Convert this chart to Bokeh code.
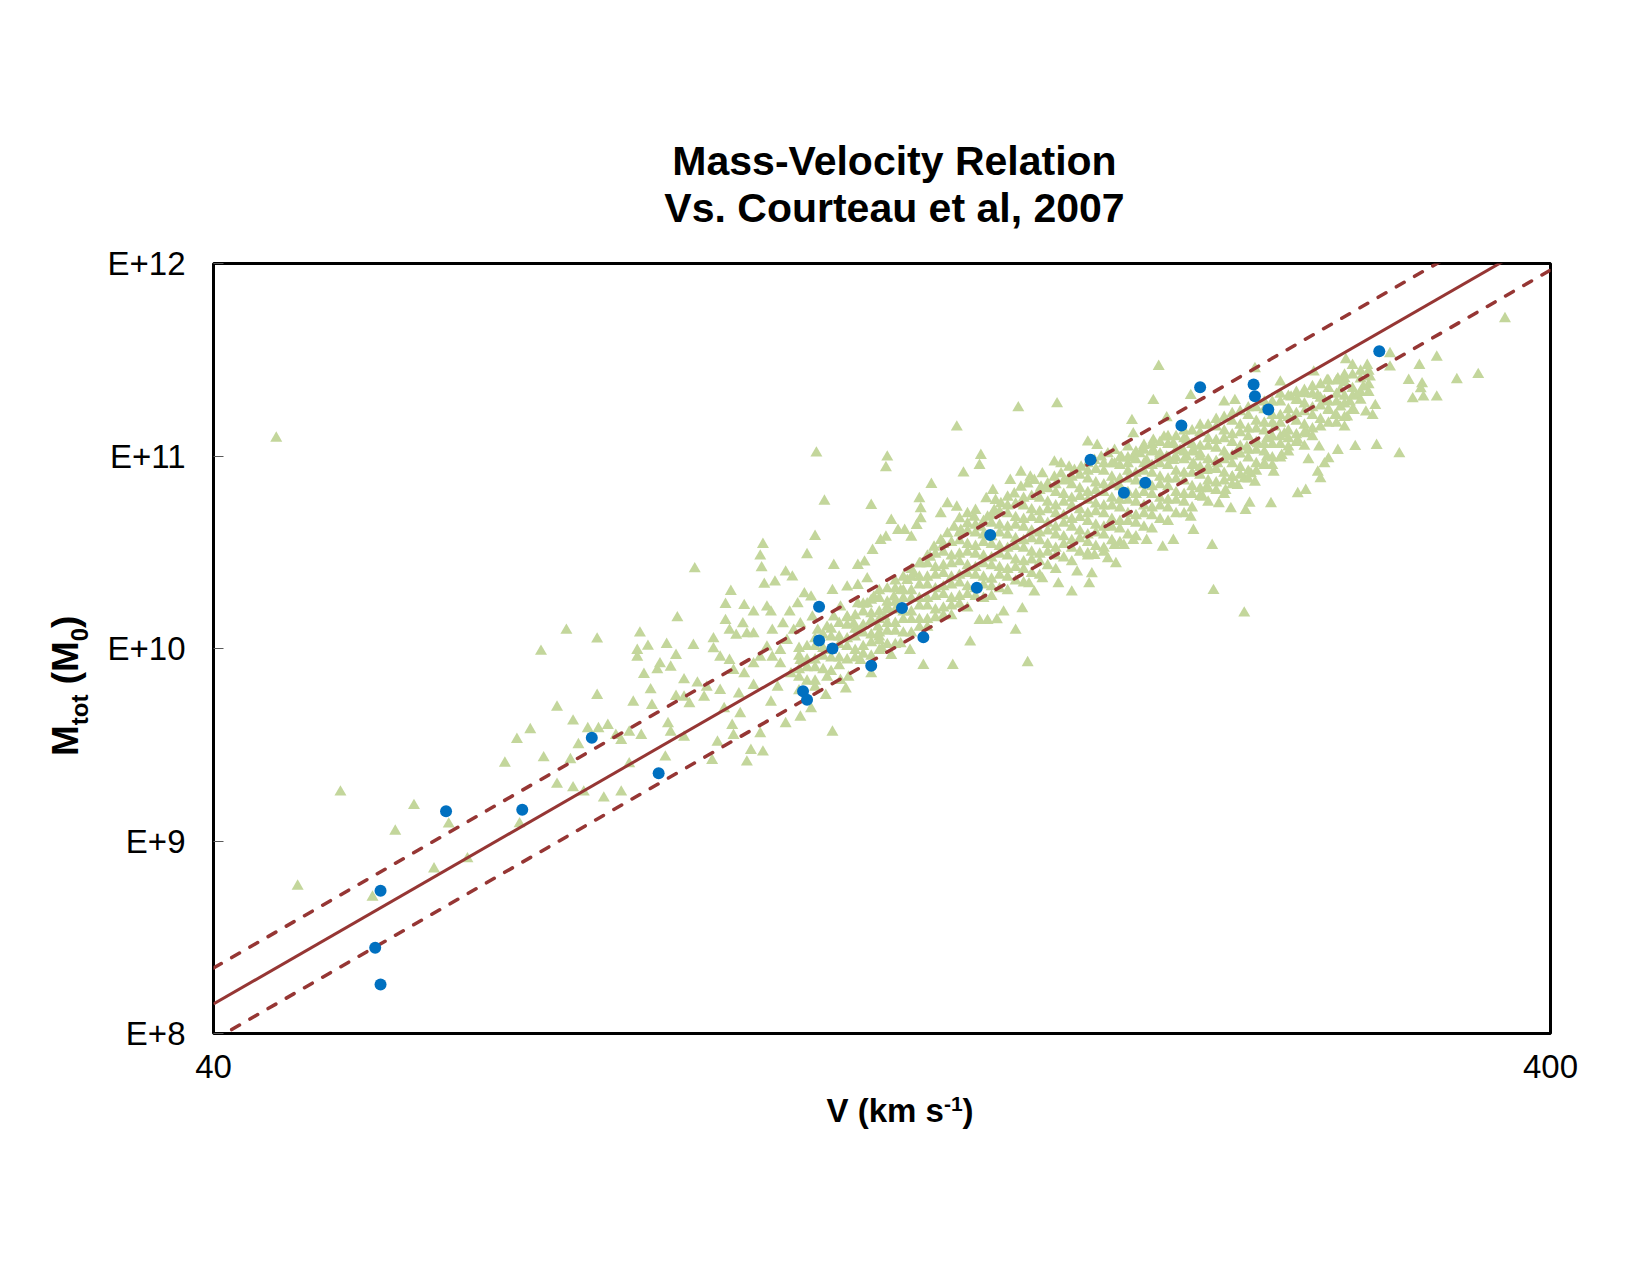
from bokeh.plotting import figure
from bokeh.layouts import column, row
from bokeh.models import Label, FixedTicker, CustomJSTickFormatter, Range1d
from bokeh.embed import file_html
from bokeh.resources import INLINE
import math

# ---------------- data (log10 V [km/s], log10 M_tot [M_sun]) ----------------
blue_pts = [
    (1.727, 8.741), (1.723, 8.445), (1.727, 8.255), (1.776, 9.155), (1.833, 9.162),
    (1.885, 9.536), (1.935, 9.352), (2.043, 9.778), (2.046, 9.734), (2.055, 10.217),
    (2.055, 10.042), (2.065, 10.000), (2.094, 9.910), (2.117, 10.211), (2.133, 10.059),
    (2.173, 10.316), (2.183, 10.590), (2.258, 10.980), (2.283, 10.809), (2.299, 10.861),
    (2.326, 11.158), (2.340, 11.357), (2.380, 11.371), (2.381, 11.311), (2.391, 11.242),
    (2.474, 11.544),
]

tri_low = [
    (1.649, 11.092),
    (1.665, 8.765), (1.697, 9.254), (1.721, 8.708), (1.738, 9.051), (1.752, 9.184),
    (1.767, 8.855), (1.778, 9.088), (1.792, 8.907), (1.820, 9.404), (1.829, 9.527),
    (1.839, 9.578), (1.831, 9.089), (1.849, 9.432), (1.859, 9.695), (1.859, 9.294),
    (1.869, 9.422), (1.871, 9.276), (1.871, 9.623), (1.875, 9.500), (1.879, 9.254),
    (1.882, 9.583), (1.890, 9.583), (1.894, 9.223), (1.897, 9.600), (1.903, 9.548),
    (1.907, 9.522), (1.907, 9.254), (1.913, 9.401), (1.916, 9.721), (1.913, 9.565),
    (1.922, 9.548), (1.930, 9.704), (1.940, 9.436), (1.942, 9.609), (1.944, 9.565),
    (1.954, 9.539), (1.958, 9.713),
]

tri_left = [
    (1.847, 9.985), (1.866, 10.094), (1.889, 10.049), (1.889, 9.756), (1.921, 10.080),
    (1.919, 9.990), (1.919, 9.955), (1.927, 10.011), (1.941, 10.021), (1.949, 10.159),
    (1.948, 9.964), (1.961, 10.016), (1.924, 9.865), (1.934, 9.889), (1.936, 9.920),
    (1.944, 9.903), (1.929, 9.785), (1.954, 9.837), (1.964, 9.820), (1.948, 9.751),
    (1.954, 9.747), (1.962, 10.414),
]

tri_top = [
    (2.204, 11.250), (2.158, 11.150), (2.309, 11.465), (2.233, 11.271), (2.305, 11.288),
    (2.289, 11.184), (2.333, 11.314), (2.315, 11.198), (2.568, 11.713),
]

tri_mid_upper = [
    (2.053, 11.015), (2.106, 10.994), (2.105, 10.939), (2.176, 11.003), (2.175, 10.951),
    (2.163, 10.911), (2.139, 10.852), (2.059, 10.765), (2.094, 10.743), (2.130, 10.778),
    (2.131, 10.726), (2.052, 10.582), (2.046, 10.487), (2.013, 10.540), (2.011, 10.480),
    (2.012, 10.419), (2.066, 10.431), (2.030, 10.397), (2.035, 10.371), (2.022, 10.345),
    (2.014, 10.333), (1.989, 10.296), (1.985, 10.229), (1.999, 10.223), (2.006, 10.189),
    (2.016, 10.215), (2.019, 10.189), (1.976, 10.050), (1.985, 10.145), (1.988, 10.094),
    (1.993, 10.068), (1.998, 10.128), (2.001, 10.076), (2.006, 10.076), (2.020, 10.094),
    (2.028, 10.128), (2.033, 10.189), (2.039, 10.232), (2.044, 10.284), (2.049, 10.267),
    (2.065, 10.301), (2.076, 10.319), (2.084, 10.327), (2.091, 10.362), (2.084, 10.431),
    (2.089, 10.449), (2.095, 10.509), (2.101, 10.561), (2.109, 10.665), (2.114, 10.613),
    (2.119, 10.613), (2.124, 10.578), (2.105, 10.578), (2.128, 10.639), (2.131, 10.674),
    (2.146, 10.700), (2.151, 10.752), (2.158, 10.734), (2.160, 10.674), (2.166, 10.700),
    (2.172, 10.717), (2.180, 10.778), (2.185, 10.821), (2.187, 10.769), (2.198, 10.873),
    (2.206, 10.916), (2.213, 10.890), (2.222, 10.907), (2.231, 10.968), (2.236, 10.959),
    (2.242, 10.942), (2.256, 11.072), (2.263, 11.055), (2.276, 11.029), (2.286, 11.046),
    (2.290, 11.115), (2.298, 11.055), (2.305, 11.081), (2.313, 11.098), (2.320, 11.063),
    (2.330, 11.081), (2.335, 11.029),
]

tri_mid_lower = [
    (2.335, 10.613), (2.333, 10.682), (2.320, 10.561), (2.312, 10.526), (2.300, 10.561),
    (2.290, 10.561), (2.283, 10.535), (2.276, 10.535), (2.268, 10.500), (2.277, 10.440),
    (2.271, 10.466), (2.261, 10.483), (2.256, 10.492), (2.259, 10.388), (2.257, 10.336),
    (2.248, 10.397), (2.244, 10.293), (2.234, 10.336), (2.222, 10.362), (2.216, 10.293),
    (2.212, 10.336), (2.202, 10.094), (2.207, 10.206), (2.193, 10.189), (2.188, 10.149),
    (2.181, 10.145), (2.175, 10.145), (2.168, 10.033), (2.155, 9.912), (2.133, 9.912),
    (2.123, 9.990), (2.116, 10.024), (2.109, 9.964), (2.102, 9.998), (2.100, 10.059),
    (2.211, 9.926), (2.094, 9.868), (2.075, 9.790), (2.060, 9.756), (2.065, 9.565),
    (2.049, 9.687), (2.041, 9.643), (2.030, 9.609), (2.019, 9.721), (2.011, 9.557),
    (2.004, 9.470), (2.013, 9.462), (2.001, 9.410), (1.975, 9.418), (1.979, 9.513),
    (1.991, 9.548), (1.996, 9.661), (1.990, 9.600), (1.984, 9.687), (1.971, 9.799),
    (1.981, 9.782), (1.995, 9.764), (2.006, 9.808), (2.024, 9.799), (2.034, 9.868),
    (2.026, 9.920), (2.041, 9.938), (2.046, 9.903), (2.052, 9.799), (2.061, 9.851),
    (2.071, 9.834), (2.077, 9.851), (2.086, 9.938), (1.969, 9.747),
]

tri_mid_band = [
    (1.976, 9.998), (1.981, 9.955), (1.988, 9.938), (1.991, 9.886), (1.999, 9.868),
    (2.006, 9.920), (2.011, 9.955), (2.016, 10.007), (2.020, 9.955), (2.026, 9.990),
    (2.031, 10.042), (2.036, 10.094), (2.041, 10.128), (2.050, 10.163), (2.054, 10.094),
    (2.061, 10.111), (2.066, 10.163), (2.071, 10.215), (2.076, 10.163), (2.081, 10.128),
    (2.086, 10.094), (2.084, 10.232), (2.091, 10.232), (2.096, 10.267), (2.094, 10.145),
    (2.099, 10.111), (2.104, 10.163), (2.106, 10.215), (2.111, 10.267), (2.116, 10.301),
    (2.121, 10.353), (2.126, 10.388), (2.131, 10.440), (2.138, 10.474), (2.141, 10.526),
    (2.146, 10.561), (2.151, 10.596), (2.156, 10.630), (2.161, 10.613), (2.166, 10.648),
    (2.171, 10.682), (2.176, 10.630), (2.181, 10.682), (2.186, 10.717), (2.191, 10.752),
    (2.196, 10.786), (2.201, 10.803), (2.206, 10.838), (2.211, 10.855), (2.216, 10.873),
    (2.221, 10.838), (2.226, 10.855), (2.231, 10.890), (2.236, 10.907), (2.241, 10.873),
    (2.246, 10.925), (2.251, 10.942), (2.256, 10.959), (2.261, 10.977), (2.266, 10.994),
    (2.271, 11.011), (2.276, 10.959), (2.281, 10.994), (2.286, 10.959), (2.290, 10.994),
    (2.295, 11.011), (2.300, 10.977), (2.305, 11.029), (2.310, 11.011), (2.315, 10.994),
    (2.320, 10.977), (2.325, 11.029), (2.330, 10.994), (2.335, 10.959), (2.340, 10.994),
]

tri_right = [
    (2.517, 11.513), (2.504, 11.470), (2.496, 11.392), (2.506, 11.375), (2.505, 11.349),
    (2.499, 11.297), (2.507, 11.306), (2.517, 11.306), (2.532, 11.396), (2.548, 11.423),
    (2.482, 11.531), (2.482, 11.462), (2.465, 11.470), (2.454, 11.470), (2.449, 11.500),
    (2.457, 11.314), (2.464, 11.228), (2.469, 11.210), (2.471, 11.262), (2.462, 11.358),
    (2.467, 11.410), (2.448, 11.401), (2.445, 11.344), (2.443, 11.401), (2.435, 11.392),
    (2.425, 11.436), (2.400, 11.384), (2.381, 11.453), (2.358, 11.280), (2.366, 11.288),
    (2.408, 11.306), (2.413, 11.288), (2.418, 11.323), (2.428, 11.314), (2.433, 11.288),
    (2.436, 11.236), (2.441, 11.210), (2.450, 11.202), (2.448, 11.150), (2.455, 11.236),
    (2.452, 11.280), (2.445, 11.254),
    (2.489, 11.011), (2.472, 11.055), (2.456, 11.049), (2.443, 11.029), (2.436, 10.985),
    (2.421, 10.980), (2.433, 10.959), (2.428, 10.916), (2.430, 10.881), (2.419, 10.821),
    (2.413, 10.804), (2.395, 10.916), (2.393, 10.752), (2.377, 10.755), (2.374, 10.717),
    (2.373, 10.881), (2.378, 10.907), (2.381, 10.864), (2.364, 10.890), (2.368, 10.847),
    (2.350, 10.301), (2.349, 10.535), (2.373, 10.184), (2.429, 11.046), (2.420, 11.115),
    (2.413, 11.081), (2.406, 11.046), (2.401, 11.003), (2.390, 10.994), (2.388, 10.959),
    (2.403, 11.115), (2.396, 11.150), (2.390, 11.089), (2.383, 11.063), (2.375, 11.046),
    (2.368, 11.011), (2.360, 10.994), (2.353, 10.959), (2.345, 10.925),
    (2.354, 10.752), (2.363, 10.726), (2.359, 10.821), (2.345, 10.838), (2.342, 10.786),
]

# dense core of the cloud: per velocity column, the masses
core_cols = [
    (2.040, [10.00, 9.96, 9.89, 9.85, 9.78]),
    (2.046, [10.01, 9.94, 9.90, 9.83]),
    (2.052, [10.05, 10.01, 9.94, 9.90, 9.83]),
    (2.058, [10.07, 10.00, 9.96, 9.89]),
    (2.064, [10.10, 10.06, 9.99, 9.95, 9.88]),
    (2.070, [10.13, 10.06, 10.02, 9.95, 9.91]),
    (2.076, [10.16, 10.12, 10.05, 10.01, 9.94]),
    (2.082, [10.17, 10.10, 10.06, 9.99, 9.95]),
    (2.088, [10.23, 10.19, 10.12, 10.08, 10.01, 9.97]),
    (2.094, [10.25, 10.18, 10.14, 10.07, 10.03, 9.96]),
    (2.100, [10.30, 10.26, 10.19, 10.15, 10.08, 10.04, 9.99]),
    (2.106, [10.31, 10.24, 10.20, 10.13, 10.09, 10.02]),
    (2.112, [10.35, 10.31, 10.24, 10.20, 10.13, 10.09, 10.02]),
    (2.118, [10.37, 10.30, 10.26, 10.19, 10.15, 10.08]),
    (2.124, [10.41, 10.37, 10.30, 10.26, 10.19, 10.15, 10.08]),
    (2.130, [10.44, 10.37, 10.33, 10.26, 10.22, 10.15, 10.11]),
    (2.136, [10.48, 10.44, 10.37, 10.33, 10.26, 10.22, 10.15, 10.11]),
    (2.142, [10.49, 10.42, 10.38, 10.31, 10.27, 10.20, 10.16]),
    (2.148, [10.54, 10.50, 10.43, 10.39, 10.32, 10.28, 10.21, 10.17]),
    (2.154, [10.55, 10.48, 10.44, 10.37, 10.33, 10.26, 10.22, 10.17]),
    (2.160, [10.60, 10.56, 10.49, 10.45, 10.38, 10.34, 10.27, 10.23]),
    (2.166, [10.61, 10.54, 10.50, 10.43, 10.39, 10.32, 10.28, 10.21]),
    (2.172, [10.64, 10.60, 10.53, 10.49, 10.42, 10.38, 10.31, 10.27]),
    (2.178, [10.66, 10.59, 10.55, 10.48, 10.44, 10.37, 10.33, 10.26]),
    (2.184, [10.69, 10.65, 10.58, 10.54, 10.47, 10.43, 10.36, 10.32, 10.27]),
    (2.190, [10.71, 10.64, 10.60, 10.53, 10.49, 10.42, 10.38, 10.31]),
    (2.196, [10.74, 10.70, 10.63, 10.59, 10.52, 10.48, 10.41, 10.37, 10.30]),
    (2.202, [10.75, 10.68, 10.64, 10.57, 10.53, 10.46, 10.42, 10.35]),
    (2.208, [10.78, 10.74, 10.67, 10.63, 10.56, 10.52, 10.45, 10.41, 10.34]),
    (2.214, [10.79, 10.72, 10.68, 10.61, 10.57, 10.50, 10.46, 10.39]),
    (2.220, [10.82, 10.78, 10.71, 10.67, 10.60, 10.56, 10.49, 10.45, 10.38]),
    (2.226, [10.83, 10.76, 10.72, 10.65, 10.61, 10.54, 10.50, 10.43]),
    (2.232, [10.85, 10.81, 10.74, 10.70, 10.63, 10.59, 10.52, 10.48, 10.41]),
    (2.238, [10.87, 10.80, 10.76, 10.69, 10.65, 10.58, 10.54, 10.47]),
    (2.244, [10.89, 10.85, 10.78, 10.74, 10.67, 10.63, 10.56, 10.52, 10.45]),
    (2.250, [10.90, 10.83, 10.79, 10.72, 10.68, 10.61, 10.57, 10.50]),
    (2.256, [10.92, 10.88, 10.81, 10.77, 10.70, 10.66, 10.59, 10.55, 10.48]),
    (2.262, [10.93, 10.86, 10.82, 10.75, 10.71, 10.64, 10.60, 10.53]),
    (2.268, [10.96, 10.92, 10.85, 10.81, 10.74, 10.70, 10.63, 10.59, 10.52]),
    (2.274, [10.96, 10.89, 10.85, 10.78, 10.74, 10.67, 10.63, 10.56]),
    (2.280, [10.99, 10.95, 10.88, 10.84, 10.77, 10.73, 10.66, 10.62, 10.55]),
    (2.286, [10.99, 10.92, 10.88, 10.81, 10.77, 10.70, 10.66, 10.59]),
    (2.292, [11.02, 10.98, 10.91, 10.87, 10.80, 10.76, 10.69, 10.65, 10.58]),
    (2.298, [11.03, 10.96, 10.92, 10.85, 10.81, 10.74, 10.70, 10.63]),
    (2.304, [11.06, 11.02, 10.95, 10.91, 10.84, 10.80, 10.73, 10.69, 10.62]),
    (2.310, [11.07, 11.00, 10.96, 10.89, 10.85, 10.78, 10.74, 10.67]),
    (2.316, [11.10, 11.06, 10.99, 10.95, 10.88, 10.84, 10.77, 10.73, 10.66]),
    (2.322, [11.10, 11.03, 10.99, 10.92, 10.88, 10.81, 10.77, 10.70]),
    (2.328, [11.13, 11.09, 11.02, 10.98, 10.91, 10.87, 10.80, 10.76, 10.70]),
    (2.334, [11.13, 11.06, 11.02, 10.95, 10.91, 10.84, 10.80, 10.73]),
    (2.340, [11.16, 11.12, 11.05, 11.01, 10.94, 10.90, 10.83, 10.79]),
    (2.346, [11.16, 11.09, 11.05, 10.98, 10.94, 10.87, 10.83, 10.76]),
    (2.352, [11.19, 11.15, 11.08, 11.04, 10.97, 10.93, 10.86, 10.82]),
    (2.358, [11.20, 11.13, 11.09, 11.02, 10.98, 10.91, 10.87, 10.80]),
    (2.364, [11.22, 11.18, 11.11, 11.07, 11.00, 10.96, 10.89, 10.85]),
    (2.370, [11.23, 11.16, 11.12, 11.05, 11.01, 10.94, 10.90]),
    (2.376, [11.25, 11.21, 11.14, 11.10, 11.03, 10.99, 10.92, 10.88]),
    (2.382, [11.25, 11.18, 11.14, 11.07, 11.03, 10.96, 10.92]),
    (2.388, [11.28, 11.24, 11.17, 11.13, 11.06, 11.02, 10.95]),
    (2.394, [11.28, 11.21, 11.17, 11.10, 11.06, 10.99, 10.95]),
    (2.400, [11.32, 11.28, 11.21, 11.17, 11.10, 11.06, 10.99]),
    (2.406, [11.31, 11.24, 11.20, 11.13, 11.09, 11.02]),
    (2.412, [11.33, 11.29, 11.22, 11.18, 11.11, 11.07]),
    (2.418, [11.34, 11.27, 11.23, 11.16, 11.12, 11.05]),
    (2.424, [11.36, 11.32, 11.25, 11.21, 11.14, 11.10]),
    (2.430, [11.37, 11.30, 11.26, 11.19, 11.15]),
    (2.436, [11.39, 11.35, 11.28, 11.24, 11.17]),
    (2.442, [11.39, 11.32, 11.28, 11.21, 11.17]),
    (2.448, [11.42, 11.38, 11.31, 11.27, 11.20]),
    (2.454, [11.42, 11.35, 11.31, 11.24]),
    (2.460, [11.44, 11.40, 11.33, 11.29]),
    (2.466, [11.44, 11.37, 11.33]),
]

# fit line and its scatter envelope (values at V = 40 and 400 km/s)
fit_v = [40, 400]
fit_logm = [8.153, 12.153]
upper_logm = [8.340, 12.340]
lower_logm = [7.966, 11.966]

x_ticks = [40, 400]
y_ticks = [1e8, 1e9, 1e10, 1e11, 1e12]
title_lines = ["Mass-Velocity Relation", "Vs. Courteau et al, 2007"]

# ---------------- layout geometry (page pixels) ----------------
FONT = "Liberation Sans"
PAGE_W, PAGE_H = 1650, 1275
FRAME_L, FRAME_T, FRAME_W, FRAME_H = 213, 263, 1337, 770
FRAME_B = FRAME_T + FRAME_H
LEFT_W = 100
TOP_H = 243
MAIN_BORDER_TOP = FRAME_T - TOP_H
MAIN_BORDER_BOTTOM = 58
MAIN_H = MAIN_BORDER_TOP + FRAME_H + MAIN_BORDER_BOTTOM
MAIN_W = PAGE_W - LEFT_W
BOTTOM_Y0 = TOP_H + MAIN_H
BOTTOM_H = PAGE_H - BOTTOM_Y0
BASE_SHIFT = 0.36   # Bokeh's "alphabetic" anchor sits ~0.36 em above the true baseline

# ---------------- main chart ----------------
p = figure(width=MAIN_W, height=MAIN_H, x_axis_type="log", y_axis_type="log",
           x_range=Range1d(40, 400), y_range=Range1d(1e8, 1e12),
           output_backend="svg", toolbar_location=None, title=None,
           min_border_left=FRAME_L - LEFT_W, min_border_right=PAGE_W - FRAME_L - FRAME_W,
           min_border_top=MAIN_BORDER_TOP, min_border_bottom=MAIN_BORDER_BOTTOM,
           background_fill_color="white", border_fill_color="white")
p.grid.visible = False
p.outline_line_color = "black"
p.outline_line_width = 3

xa = p.xaxis[0]
xa.ticker = FixedTicker(ticks=x_ticks)
xa.formatter = CustomJSTickFormatter(code="return String(Math.round(tick));")
xa.major_tick_line_color = None
xa.major_tick_out = 0
xa.major_tick_in = 0
xa.minor_tick_line_color = None
xa.axis_line_color = None
xa.major_label_text_font = FONT
xa.major_label_text_font_size = "33px"
xa.major_label_text_color = "black"
xa.major_label_standoff = 21

ya = p.yaxis[0]
ya.ticker = FixedTicker(ticks=y_ticks)
ya.formatter = CustomJSTickFormatter(code="return 'E+' + Math.round(Math.log10(tick));")
ya.major_tick_in = 10
ya.major_tick_out = 0
ya.major_tick_line_color = "#595959"
ya.major_tick_line_width = 1
ya.minor_tick_line_color = None
ya.axis_line_color = None
ya.major_label_text_font = FONT
ya.major_label_text_font_size = "33px"
ya.major_label_text_color = "black"
ya.major_label_standoff = 28

core_pts = [(v, m) for v, ms in core_cols for m in ms]
tri_pts = (tri_low + tri_left + tri_top + tri_mid_upper + tri_mid_lower
           + tri_mid_band + tri_right + core_pts)
tri_v = [10 ** a for a, b in tri_pts]
tri_m = [10 ** b for a, b in tri_pts]
p.scatter(tri_v, tri_m, marker="triangle", size=12, fill_color="#C3D69B", line_color=None)

LINE_C = "#963634"
p.line(fit_v, [10 ** m for m in fit_logm], line_color=LINE_C, line_width=3)
p.line(fit_v, [10 ** m for m in upper_logm], line_color=LINE_C, line_width=3.5,
       line_dash="9 12", line_cap="round")
p.line(fit_v, [10 ** m for m in lower_logm], line_color=LINE_C, line_width=3.5,
       line_dash="9 12", line_cap="round")

p.scatter([10 ** a for a, b in blue_pts], [10 ** b for a, b in blue_pts],
          marker="circle", size=12, fill_color="#0070C0", line_color=None)

# ---------------- text panels around the chart ----------------
def text_panel(w, h, bt=0, bb=0):
    f = figure(width=w, height=h, output_backend="svg", toolbar_location=None, title=None,
               x_axis_location=None, y_axis_location=None, min_border=0,
               min_border_left=0, min_border_right=0, min_border_top=bt, min_border_bottom=bb,
               x_range=Range1d(0, w), y_range=Range1d(0, h - bt - bb),
               background_fill_color="white", border_fill_color="white")
    f.outline_line_color = None
    f.grid.visible = False
    return f

def put(panel, frame_bottom, text, X, Y, size, align="left", rotated=False):
    # (X, Y): page position where the text's baseline starts (or its centre if align="center")
    if rotated:
        ax, ay, ang = X - BASE_SHIFT * size, Y, math.pi / 2
    else:
        ax, ay, ang = X, Y - BASE_SHIFT * size, 0.0
    panel.add_layout(Label(x=ax, y=frame_bottom - ay, x_units="screen", y_units="screen",
                           text=text, text_font=FONT, text_font_size=f"{size}px",
                           text_font_style="bold", text_color="black",
                           text_align=align, text_baseline="alphabetic", angle=ang))

top = text_panel(PAGE_W, TOP_H)
put(top, TOP_H, title_lines[0], 894, 175, 41, align="center")
put(top, TOP_H, title_lines[1], 894, 222, 41, align="center")

# left panel: its frame is kept aligned with the chart frame (same top/bottom borders)
left = text_panel(LEFT_W, MAIN_H, bt=MAIN_BORDER_TOP, bb=MAIN_BORDER_BOTTOM)
put(left, FRAME_B, "M", 78.3, 755.5, 37, rotated=True)
put(left, FRAME_B, "tot", 87.3, 724.7, 24, rotated=True)
put(left, FRAME_B, "(M", 78.3, 683.8, 37, rotated=True)
put(left, FRAME_B, "0", 87.3, 640.7, 24, rotated=True)
put(left, FRAME_B, ")", 78.3, 627.4, 37, rotated=True)

bottom = text_panel(PAGE_W, BOTTOM_H)
put(bottom, PAGE_H, "V (km s", 826, 1122, 33)
put(bottom, PAGE_H, "-1", 943.5, 1111.5, 21)
put(bottom, PAGE_H, ")", 962, 1122, 33)

layout = column(top, row(left, p, spacing=0), bottom, spacing=0)
open("out.html", "w").write(file_html(layout, INLINE))
